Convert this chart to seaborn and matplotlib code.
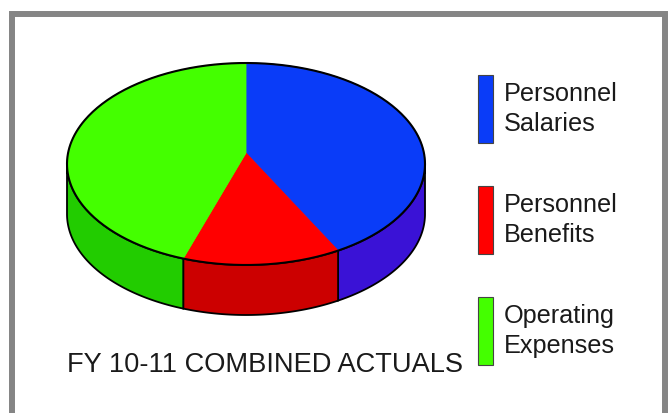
import numpy as np
import matplotlib
matplotlib.use('Agg')
import matplotlib.pyplot as plt
from matplotlib.patches import Rectangle
import seaborn as sns

# ── Data ──────────────────────────────────────────────────────────────
labels = ['Personnel\nSalaries', 'Personnel\nBenefits', 'Operating\nExpenses']
shares = [41.4, 14.3, 44.3]
top_colors = ['#0A3CF8', '#FF0000', '#44FF00']
side_colors = ['#3A12D6', '#CC0000', '#22CC00']
title = 'FY 10-11 COMBINED ACTUALS'

sns.set_theme(style='white')
plt.rcParams['font.family'] = ['Liberation Sans', 'DejaVu Sans']

W, H = 668, 413
fig = plt.figure(figsize=(W / 100, H / 100), dpi=100)
fig.patch.set_facecolor('white')
ax = fig.add_axes([0, 0, 1, 1])

# pie geometry (pixels): centre, radii, thickness, apex lift (perspective)
cx, cy, rx, ry, depth, lift = 246, 164, 179, 101, 50, 11
d = depth / ry
apex = (0.0, lift / ry)

frac = np.array(shares) / sum(shares)
edges = 90 - 360 * np.concatenate([[0], np.cumsum(frac)])

# ── Side walls (front half only) ──────────────────────────────────────
for i in range(len(shares)):
    lo, hi = max(edges[i + 1], -180), min(edges[i], 0)
    if hi <= lo:
        continue
    t = np.radians(np.linspace(lo, hi, 120))
    x, y = np.cos(t), np.sin(t)
    xs = np.concatenate([x, x[::-1]])
    ys = np.concatenate([y, y[::-1] - d])
    ax.fill(xs, ys, facecolor=side_colors[i], edgecolor='black', lw=1.3, zorder=1)

# ── Top face ──────────────────────────────────────────────────────────
for i in range(len(shares)):
    t = np.radians(np.linspace(edges[i], edges[i + 1], 200))
    xs = np.concatenate([[apex[0]], np.cos(t)])
    ys = np.concatenate([[apex[1]], np.sin(t)])
    ax.fill(xs, ys, facecolor=top_colors[i], edgecolor=top_colors[i], lw=0.6, zorder=2)
t = np.linspace(0, 2 * np.pi, 400)
ax.plot(np.cos(t), np.sin(t), color='black', lw=1.5, zorder=3)

ax.set_xlim(-cx / rx, (W - cx) / rx)
ax.set_ylim((cy - H) / ry, cy / ry)
ax.axis('off')

# ── Legend (tall colour bars with two-line labels) ────────────────────
bar_tops = [75, 186, 297]
bar_h, bar_x, bar_w, text_x = 68, 478, 15, 504
for top, c, lab in zip(bar_tops, top_colors, labels):
    fig.add_artist(Rectangle((bar_x / W, 1 - (top + bar_h) / H), bar_w / W, bar_h / H,
                             transform=fig.transFigure, facecolor=c,
                             edgecolor='#444444', lw=0.8))
    fig.text(text_x / W, 1 - (top + bar_h / 2) / H, lab, fontsize=18.2,
             ha='left', va='center', linespacing=1.3, color='#1a1a1a')

# ── Title & frame ─────────────────────────────────────────────────────
fig.text(67 / W, 1 - 365 / H, title, fontsize=19.6, ha='left', va='center',
         color='#1a1a1a')
fig.add_artist(Rectangle((12.5 / W, -0.05), (665 - 12.5) / W, 1.05 - 14 / H,
                         transform=fig.transFigure, fill=False,
                         edgecolor='#858585', lw=4.3))

fig.savefig('out.png', dpi=100)
